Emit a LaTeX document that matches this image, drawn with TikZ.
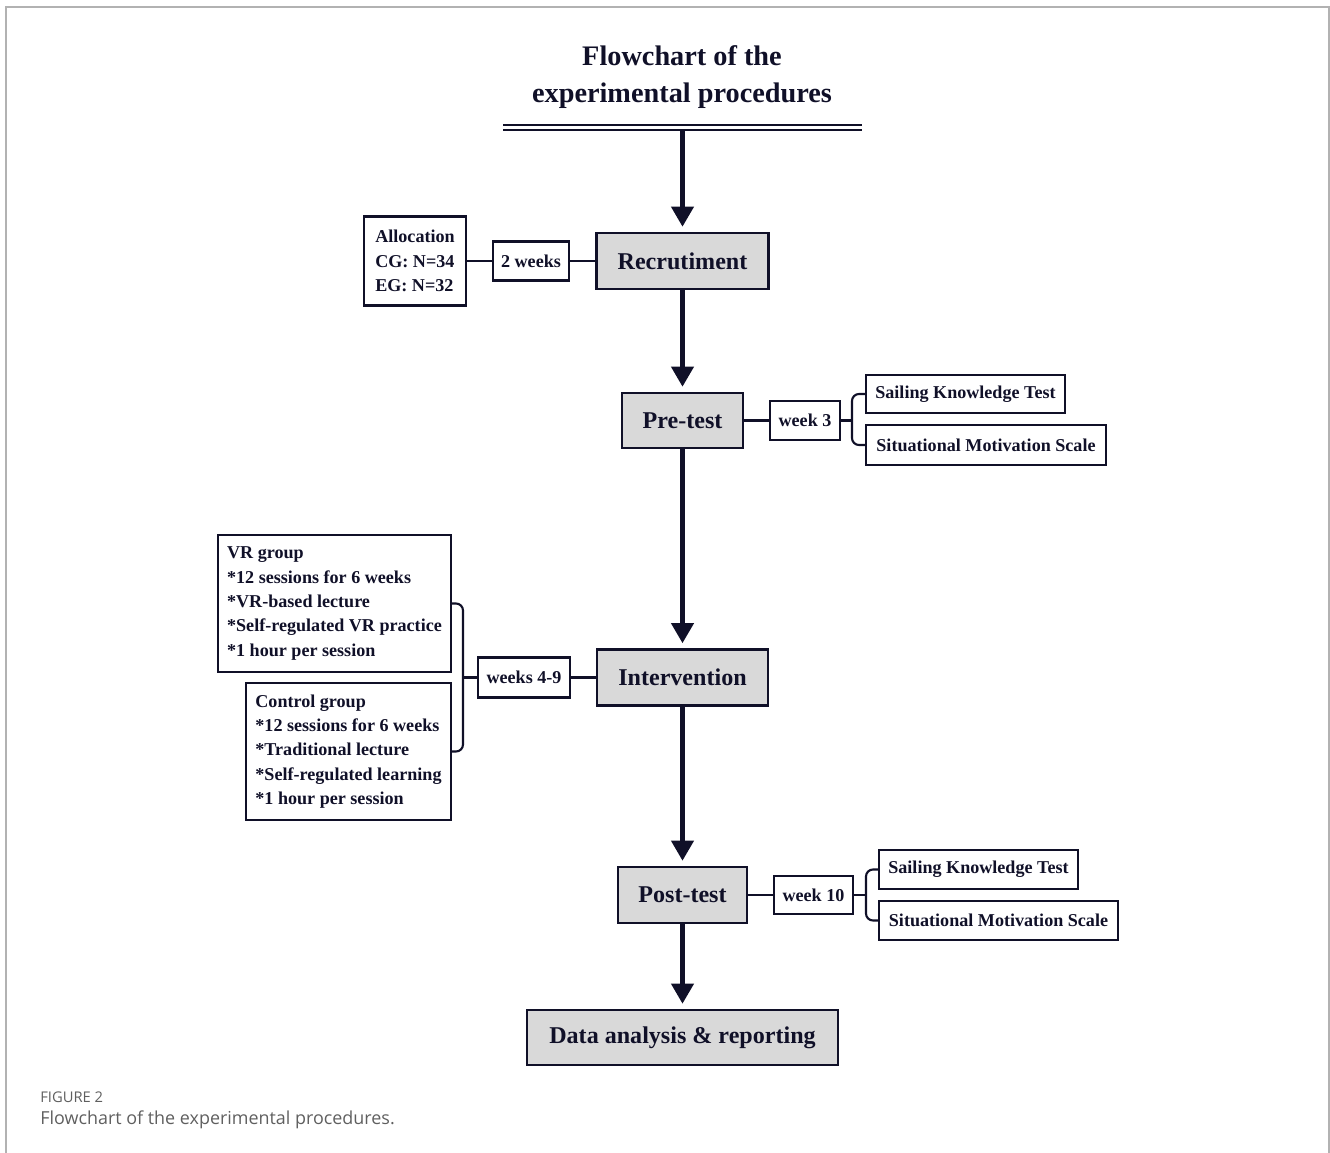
\documentclass[tikz,border=0pt]{standalone}
\usepackage{fontspec}
\setmainfont{Liberation Serif}
\newfontfamily\captionfont{Open Sans}
\usetikzlibrary{arrows.meta}

\begin{document}
\begin{tikzpicture}[x=0.02cm, y=-0.02cm]

\newlength{\px}
\setlength{\px}{0.02cm}

\definecolor{ink}{RGB}{16,16,40}
\definecolor{stagegray}{RGB}{217,217,217}
\definecolor{framegray}{RGB}{178,178,178}
\definecolor{capgray}{RGB}{95,95,95}

\useasboundingbox (0,0) rectangle (1330,1153);

% styles
\pgfkeys{/box/.style={draw=ink, text=ink, line width=1.3pt, inner sep=0}} % base style for boxes
\pgfkeys{/stage/.style={/box, fill=stagegray, line width=1.5pt, font=\fontsize{13.7}{16}\selectfont\bfseries}} % main steps
\pgfkeys{/week/.style={/box, line width=1.2pt, font=\fontsize{10.3}{13.9}\selectfont\bfseries}} % timing boxes
\pgfkeys{/info/.style={/week, align=left}} % boxes with details
\pgfkeys{/flow/.style={draw=ink, line width=2.3pt, -{Triangle[width=0.44cm, length=0.4cm]}, shorten >=0.1cm}} % main arrows
\pgfkeys{/link/.style={draw=ink, line width=1.2pt}} % plain connectors

% frame round the figure
\draw[framegray, line width=1.1pt] (6,1153) -- (6,7) -- (1329,7) -- (1329,1153);

% title and bar under it
\node[text=ink, align=center, font=\fontsize{16.1}{21.5}\selectfont\bfseries] (title) at (682,77) {Flowchart of the\\experimental procedures};
\coordinate (barL) at (503,125);
\coordinate (barR) at (862,125);
\coordinate (bar) at (682.5,130);
\draw[ink, line width=1.4pt] (barL) -- (barR) (503,130) -- (862,130);

% main column
\node[/stage, minimum width=172\px, minimum height=56\px] (recr) at (682.5,261) {Recrutiment};
\node[/stage, minimum width=121\px, minimum height=55\px] (pre) at (682.5,420.5) {Pre-test};
\node[/stage, minimum width=171\px, minimum height=56\px] (interv) at (682.5,677.5) {Intervention};
\node[/stage, minimum width=129\px, minimum height=56\px] (post) at (682.5,895) {Post-test};
\node[/stage, minimum width=311\px, minimum height=55\px] (data) at (682.5,1037.5) {Data analysis \& reporting};

\draw[/flow] (bar) -- (recr.north);
\foreach \a/\b in {recr/pre, pre/interv, interv/post, post/data} {
\draw[/flow] (\a.south) -- (\b.north); % step to step
}

% recruitment
\node[/week, minimum width=76\px, minimum height=39\px] (wk2) at (531,261) {2 weeks};
\node[/info, minimum width=102\px, minimum height=89\px] (alloc) at (415,261) {Allocation\\CG: N=34\\EG: N=32};
\draw[/link] (alloc.east) -- (wk2.west);
\draw[/link] (wk2.east) -- (recr.west);

% pre-test
\node[/week, minimum width=70\px, minimum height=39\px] (wk3) at (805,420.5) {week 3};
\node[/week, minimum width=199\px, minimum height=38\px] (skt1) at (965.5,394) {Sailing Knowledge Test};
\node[/week, minimum width=240\px, minimum height=40\px] (sms1) at (986,445) {Situational Motivation Scale};
\coordinate (br1) at (852,420.5);
\draw[/link] (pre.east) -- (wk3.west);
\draw[/link] (wk3.east) -- (br1);
\draw[/link, rounded corners=0.14cm] (skt1.west) -| (br1) |- (sms1.west);

% intervention
\node[/week, minimum width=92\px, minimum height=40\px] (wk49) at (524,677.5) {weeks 4-9};
\node[/info, minimum width=233\px, minimum height=137\px] (vr) at (334.5,603.5) {VR group\\*12 sessions for 6 weeks\\*VR-based lecture\\*Self-regulated VR practice\\*1 hour per session};
\node[/info, minimum width=205\px, minimum height=137\px] (ctrl) at (348.5,751.5) {Control group\\*12 sessions for 6 weeks\\*Traditional lecture\\*Self-regulated learning\\*1 hour per session};
\coordinate (br2) at (463,677.5);
\draw[/link] (interv.west) -- (wk49.east);
\draw[/link] (wk49.west) -- (br2);
\draw[/link, rounded corners=0.14cm] (vr.east) -| (br2) |- (ctrl.east);

% post-test
\node[/week, minimum width=79\px, minimum height=38\px] (wk10) at (813.5,895) {week 10};
\node[/week, minimum width=199\px, minimum height=39\px] (skt2) at (978.5,869.5) {Sailing Knowledge Test};
\node[/week, minimum width=239\px, minimum height=39\px] (sms2) at (998.5,920.5) {Situational Motivation Scale};
\coordinate (br3) at (866,895);
\draw[/link] (post.east) -- (wk10.west);
\draw[/link] (wk10.east) -- (br3);
\draw[/link, rounded corners=0.14cm] (skt2.west) -| (br3) |- (sms2.west);

% caption
\node[anchor=west, inner sep=0, text=capgray, font=\captionfont\fontsize{8.4}{10}\selectfont] (fig) at (40,1097) {FIGURE 2};
\node[anchor=west, inner sep=0, text=capgray, font=\captionfont\fontsize{10.2}{12}\selectfont] (cap) at (40,1120) {Flowchart of the experimental procedures.};

\end{tikzpicture}
\end{document}
